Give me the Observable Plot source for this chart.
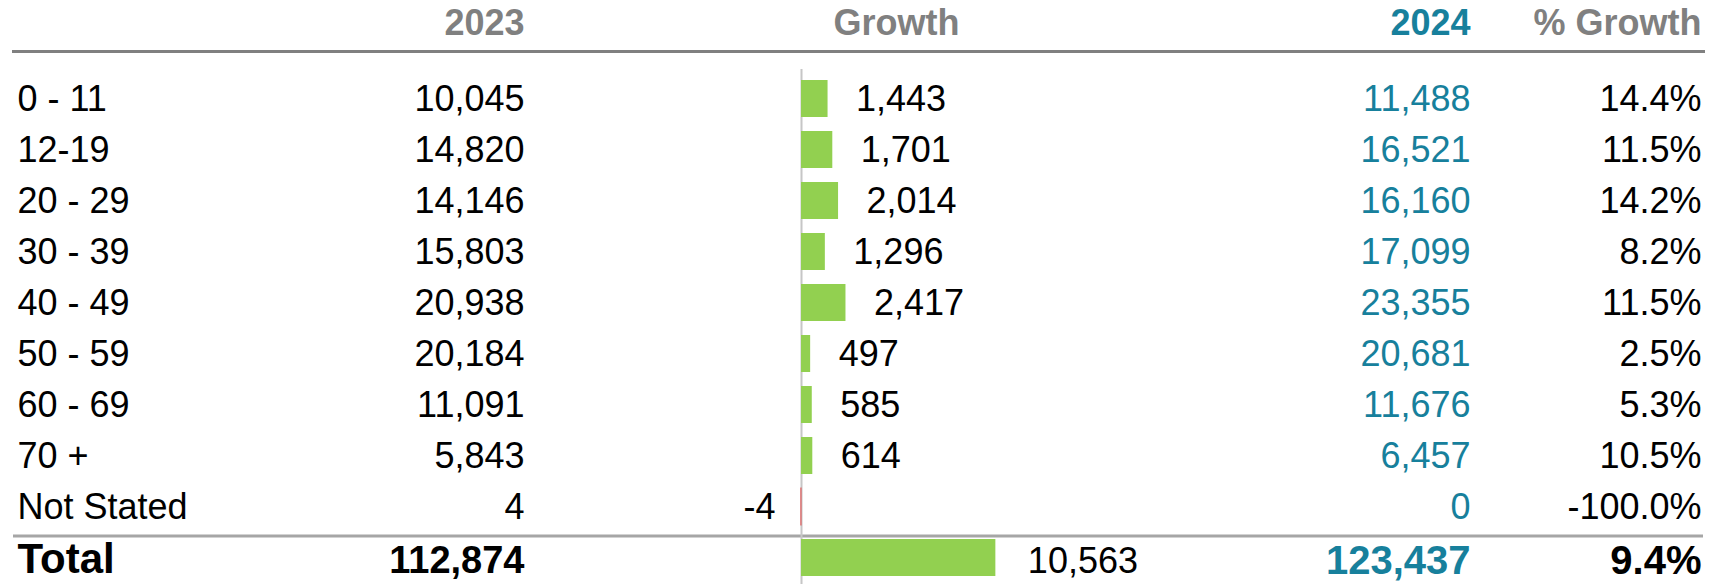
<!DOCTYPE html>
<html>
<head>
<meta charset="utf-8">
<script src="https://cdn.jsdelivr.net/npm/d3@7"></script>
<script src="https://cdn.jsdelivr.net/npm/@observablehq/plot@0.6"></script>
<style>
  html, body { margin: 0; padding: 0; background: #fff; }
  #chart svg { display: block; }
</style>
</head>
<body>
<div id="chart"></div>
<script>
// ---- data ----
const categories = ["0 - 11", "12-19", "20 - 29", "30 - 39", "40 - 49", "50 - 59", "60 - 69", "70 +", "Not Stated"];
const values2023 = [10045, 14820, 14146, 15803, 20938, 20184, 11091, 5843, 4];
const growth = [1443, 1701, 2014, 1296, 2417, 497, 585, 614, -4];
const values2024 = [11488, 16521, 16160, 17099, 23355, 20681, 11676, 6457, 0];
const pctGrowth = [14.4, 11.5, 14.2, 8.2, 11.5, 2.5, 5.3, 10.5, -100.0];
const totalLabel = "Total";
const total2023 = 112874;
const totalGrowth = 10563;
const total2024 = 123437;
const totalPct = 9.4;
const headers = ["2023", "Growth", "2024", "% Growth"];

// ---- table built from arrays ----
const rows = categories.map((c, i) => ({
  category: c, v2023: values2023[i], growth: growth[i], v2024: values2024[i], pct: pctGrowth[i], total: false
}));
const totalRow = {category: totalLabel, v2023: total2023, growth: totalGrowth, v2024: total2024, pct: totalPct, total: true};
const all = [...rows, totalRow];
const yDomain = all.map(d => d.category);

const locale = d3.formatLocale({decimal: ".", thousands: ",", grouping: [3], currency: ["", ""], minus: "-"});
const fmt = locale.format(",");
const fmtPct = v => locale.format(".1f")(v) + "%";

const GREY = "#808080";
const BLUE = "#17809c";
const GREEN = "#92d050";
const RED = "#e05050";
const F = 36;   // body font size
const ML = 13;  // left margin
const HDY = -28; // header offset above frame top
const TDY = 3;   // total row text offset

const plot = Plot.plot({
  width: 1711,
  height: 584,
  marginLeft: ML,
  marginRight: 8,
  marginTop: 51,
  marginBottom: 0,
  style: {fontFamily: "'Liberation Sans', Arial, sans-serif", background: "#fff"},
  x: {domain: [0, 10000], range: [801, 985], axis: null},
  y: {domain: yDomain, range: [69, 587], paddingInner: 0.284, paddingOuter: 0.142, axis: null},
  marks: [
    // header rule
    Plot.frame({anchor: "top", stroke: GREY, strokeWidth: 3}),
    // header labels
    Plot.text([headers[0]], {frameAnchor: "top-left", lineAnchor: "middle", dx: 524 - ML, dy: HDY, textAnchor: "end", fontSize: F, fontWeight: "bold", fill: GREY}),
    Plot.text([headers[1]], {frameAnchor: "top-left", lineAnchor: "middle", dx: 896 - ML, dy: HDY, textAnchor: "middle", fontSize: F, fontWeight: "bold", fill: GREY}),
    Plot.text([headers[2]], {frameAnchor: "top-left", lineAnchor: "middle", dx: 1470 - ML, dy: HDY, textAnchor: "end", fontSize: F, fontWeight: "bold", fill: BLUE}),
    Plot.text([headers[3]], {frameAnchor: "top-right", lineAnchor: "middle", dx: -2, dy: HDY, textAnchor: "end", fontSize: F, fontWeight: "bold", fill: GREY}),
    // total separator
    Plot.ruleY([totalLabel], {stroke: "#a6a6a6", strokeWidth: 3, dy: -22}),
    // zero baseline
    Plot.ruleX([0], {stroke: "#c6c6c6", strokeWidth: 2, insetTop: 18}),
    // growth bars
    Plot.barX(all, {
      x: "growth", y: "category",
      fill: d => d.growth < 0 ? RED : GREEN,
      stroke: d => d.growth < 0 ? RED : "none",
      strokeWidth: 1
    }),
    // growth labels
    Plot.text(rows.filter(d => d.growth >= 0), {
      x: "growth", y: "category", text: d => fmt(d.growth),
      textAnchor: "start", dx: 28, fontSize: F, fill: "#000"
    }),
    Plot.text(rows.filter(d => d.growth < 0), {
      x: "growth", y: "category", text: d => fmt(d.growth),
      textAnchor: "end", dx: -26, fontSize: F, fill: "#000"
    }),
    Plot.text([totalRow], {
      x: "growth", y: "category", text: d => fmt(d.growth),
      textAnchor: "start", dx: 32, dy: TDY, fontSize: F, fill: "#000"
    }),
    // category labels
    Plot.text(rows, {y: "category", text: "category", frameAnchor: "left", dx: 17 - ML, textAnchor: "start", fontSize: F, fill: "#000"}),
    Plot.text([totalRow], {y: "category", text: "category", frameAnchor: "left", dx: 17 - ML, dy: 2, textAnchor: "start", fontSize: 42, fontWeight: "bold", fill: "#000"}),
    // 2023 column
    Plot.text(rows, {y: "category", text: d => fmt(d.v2023), frameAnchor: "left", dx: 524 - ML, textAnchor: "end", fontSize: F, fill: "#000"}),
    Plot.text([totalRow], {y: "category", text: d => fmt(d.v2023), frameAnchor: "left", dx: 524 - ML, dy: TDY, textAnchor: "end", fontSize: 38, fontWeight: "bold", fill: "#000"}),
    // 2024 column
    Plot.text(rows, {y: "category", text: d => fmt(d.v2024), frameAnchor: "left", dx: 1470 - ML, textAnchor: "end", fontSize: F, fill: BLUE}),
    Plot.text([totalRow], {y: "category", text: d => fmt(d.v2024), frameAnchor: "left", dx: 1470 - ML, dy: TDY, textAnchor: "end", fontSize: 40, fontWeight: "bold", fill: BLUE}),
    // % growth column
    Plot.text(rows, {y: "category", text: d => fmtPct(d.pct), frameAnchor: "right", dx: -2, textAnchor: "end", fontSize: F, fill: "#000"}),
    Plot.text([totalRow], {y: "category", text: d => fmtPct(d.pct), frameAnchor: "right", dx: -2, dy: TDY, textAnchor: "end", fontSize: 40, fontWeight: "bold", fill: "#000"})
  ]
});
document.getElementById("chart").appendChild(plot);
</script>
</body>
</html>
